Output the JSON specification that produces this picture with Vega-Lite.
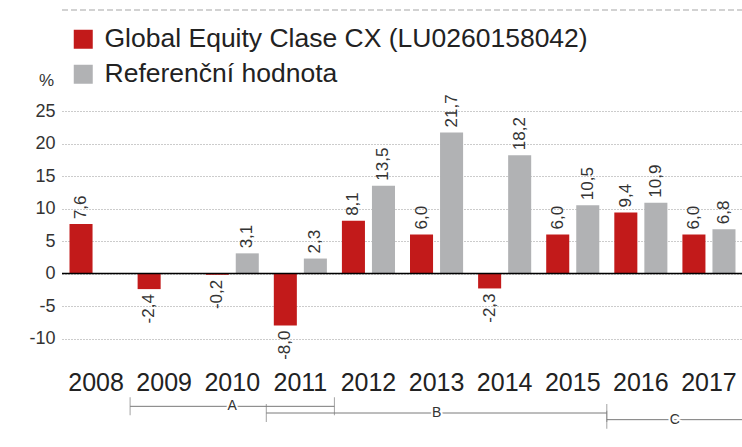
{
  "$schema": "https://vega.github.io/schema/vega-lite/v6.json",
  "background": "white",
  "padding": {"left": 28, "top": 9, "right": 0, "bottom": 0},
  "bounds": "flush",
  "spacing": 45,
  "resolve": {"scale": {"x": "independent", "y": "independent", "color": "independent"}, "legend": {"color": "independent"}},
  "config": {
    "view": {"stroke": null},
    "font": "Liberation Sans",
    "locale": {"number": {"decimal": ",", "thousands": " ", "grouping": [3], "currency": ["", ""], "minus": "-"}}
  },
  "vconcat": [
    {
      "width": 681,
      "height": 43,
      "data": {"values": [{"line": "separator"}]},
      "mark": {"type": "rule", "color": "#c4c4c4", "strokeDash": [6, 3], "strokeWidth": 1.5},
      "encoding": {"y": {"datum": 1, "type": "quantitative", "scale": {"domain": [0, 1]}, "axis": null}}
    },
    {
      "width": 681,
      "height": 260,
      "data": {"values": [
        {"year": "2008", "series": "Global Equity Clase CX (LU0260158042)", "value": 7.6},
        {"year": "2009", "series": "Global Equity Clase CX (LU0260158042)", "value": -2.4},
        {"year": "2010", "series": "Global Equity Clase CX (LU0260158042)", "value": -0.2},
        {"year": "2010", "series": "Referenční hodnota", "value": 3.1},
        {"year": "2011", "series": "Global Equity Clase CX (LU0260158042)", "value": -8.0},
        {"year": "2011", "series": "Referenční hodnota", "value": 2.3},
        {"year": "2012", "series": "Global Equity Clase CX (LU0260158042)", "value": 8.1},
        {"year": "2012", "series": "Referenční hodnota", "value": 13.5},
        {"year": "2013", "series": "Global Equity Clase CX (LU0260158042)", "value": 6.0},
        {"year": "2013", "series": "Referenční hodnota", "value": 21.7},
        {"year": "2014", "series": "Global Equity Clase CX (LU0260158042)", "value": -2.3},
        {"year": "2014", "series": "Referenční hodnota", "value": 18.2},
        {"year": "2015", "series": "Global Equity Clase CX (LU0260158042)", "value": 6.0},
        {"year": "2015", "series": "Referenční hodnota", "value": 10.5},
        {"year": "2016", "series": "Global Equity Clase CX (LU0260158042)", "value": 9.4},
        {"year": "2016", "series": "Referenční hodnota", "value": 10.9},
        {"year": "2017", "series": "Global Equity Clase CX (LU0260158042)", "value": 6.0},
        {"year": "2017", "series": "Referenční hodnota", "value": 6.8}
      ]},
      "encoding": {
        "x": {"field": "year", "type": "nominal", "scale": {"paddingInner": 0, "paddingOuter": 0},
          "axis": {"title": null, "labelAngle": 0, "labelFontSize": 25, "labelColor": "#222", "labelPadding": 12, "ticks": false, "domain": false, "grid": false, "labelOverlap": false}},
        "xOffset": {"field": "series", "type": "nominal", "scale": {"domain": ["Global Equity Clase CX (LU0260158042)", "Referenční hodnota"], "paddingInner": 0.233, "paddingOuter": 0.25}},
        "y": {"field": "value", "type": "quantitative", "scale": {"domain": [-13, 27], "nice": false, "zero": false},
          "axis": {"values": [-10, -5, 0, 5, 10, 15, 20, 25], "format": "d", "labelOverlap": false, "labelFontSize": 18, "labelColor": "#333", "labelPadding": 7, "ticks": false, "domain": false, "grid": true, "gridDash": [1, 2], "gridColor": "#999", "gridWidth": 1,
            "title": "%", "titleAngle": 0, "titleX": -16, "titleY": -13, "titleAlign": "center", "titleBaseline": "alphabetic", "titleFontSize": 17, "titleFontWeight": "normal", "titleColor": "#333"}}
      },
      "layer": [
        {
          "mark": {"type": "bar"},
          "encoding": {
            "color": {"field": "series", "type": "nominal", "scale": {"domain": ["Global Equity Clase CX (LU0260158042)", "Referenční hodnota"], "range": ["#c21a1a", "#b1b2b4"]},
              "legend": {"title": null, "orient": "none", "direction": "vertical", "legendX": 8, "legendY": -72, "padding": 0, "symbolType": "square", "symbolSize": 361, "symbolStrokeWidth": 0, "labelFontSize": 26.5, "labelColor": "#222", "labelOffset": 8, "rowPadding": 8, "labelLimit": 0}}
          }
        },
        {
          "transform": [{"filter": "datum.value >= 0"}],
          "mark": {"type": "text", "angle": 270, "align": "left", "baseline": "middle", "dx": 5, "fontSize": 17, "color": "#333"},
          "encoding": {
            "text": {"field": "value", "type": "quantitative", "format": ".1f"}
          }
        },
        {
          "transform": [{"filter": "datum.value < 0"}],
          "mark": {"type": "text", "angle": 270, "align": "right", "baseline": "middle", "dx": -5, "fontSize": 17, "color": "#333"},
          "encoding": {
            "text": {"field": "value", "type": "quantitative", "format": ".1f"}
          }
        },
        {
          "data": {"values": [{"baseline": 0}]},
          "mark": {"type": "rule", "color": "#000", "strokeWidth": 1.5},
          "encoding": {"x": null, "xOffset": null, "y": {"field": "baseline", "type": "quantitative"}}
        }
      ]
    },
    {
      "width": 681,
      "height": 20,
      "data": {"values": [
        {"period": "A", "from": 2009, "to": 2012},
        {"period": "B", "from": 2011, "to": 2016},
        {"period": "C", "from": 2016, "to": 2018}
      ]},
      "layer": [
        {
          "mark": {"type": "rule", "color": "#7a7a7a", "strokeWidth": 1},
          "encoding": {
            "x": {"field": "from", "type": "quantitative", "scale": {"domain": [2008, 2018], "nice": false, "zero": false}, "axis": null},
            "x2": {"field": "to"},
            "y": {"field": "period", "type": "nominal", "scale": {"paddingInner": 0, "paddingOuter": 0}, "axis": null}
          }
        },
        {
          "transform": [{"fold": ["from", "to"], "as": ["end", "yr"]}],
          "mark": {"type": "tick", "orient": "vertical", "size": 18, "thickness": 1, "color": "#7a7a7a"},
          "encoding": {
            "x": {"field": "yr", "type": "quantitative"},
            "y": {"field": "period", "type": "nominal"}
          }
        },
        {
          "transform": [{"fold": ["from", "to"], "as": ["end", "yr"]}],
          "mark": {"type": "text", "fontSize": 14, "fill": "white", "stroke": "white", "strokeWidth": 4},
          "encoding": {
            "x": {"aggregate": "mean", "field": "yr", "type": "quantitative"},
            "y": {"field": "period", "type": "nominal"},
            "text": {"field": "period", "type": "nominal"}
          }
        },
        {
          "transform": [{"fold": ["from", "to"], "as": ["end", "yr"]}],
          "mark": {"type": "text", "fontSize": 14, "color": "#333"},
          "encoding": {
            "x": {"aggregate": "mean", "field": "yr", "type": "quantitative"},
            "y": {"field": "period", "type": "nominal"},
            "text": {"field": "period", "type": "nominal"}
          }
        }
      ]
    }
  ]
}
